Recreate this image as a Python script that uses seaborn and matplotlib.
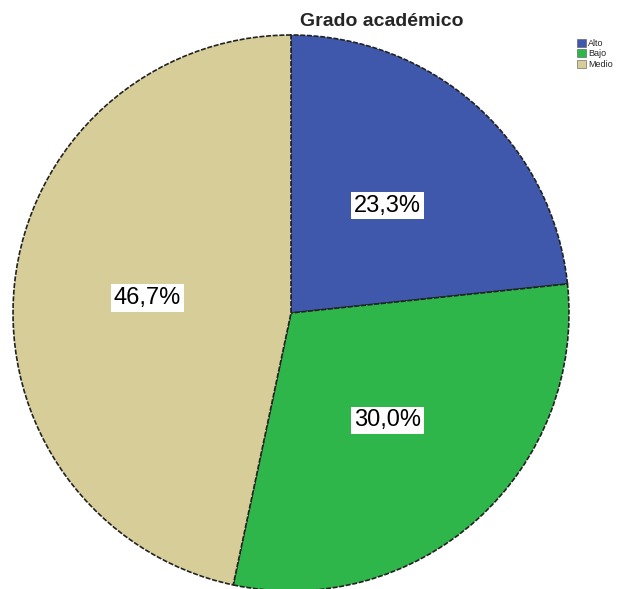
import matplotlib
matplotlib.use("Agg")
import matplotlib.pyplot as plt
from matplotlib.patches import Patch
import seaborn as sns

# Grado académico (n = 30)
categories = ["Alto", "Bajo", "Medio"]
counts = [7, 9, 14]
colors = ["#3F58AC", "#2FB64A", "#D6CD98"]

sns.set_theme(style="white")
plt.rcParams["font.family"] = ["Liberation Sans", "DejaVu Sans"]

fig = plt.figure(figsize=(6.21, 5.89), dpi=100)
ax = fig.add_axes([13 / 621, -2 / 589, 556 / 621, 556 / 589])

wedges, texts, autotexts = ax.pie(
    counts,
    colors=colors,
    startangle=90,
    counterclock=False,
    autopct=lambda p: f"{p:.1f}%".replace(".", ","),
    pctdistance=0.52,
    wedgeprops={"edgecolor": "#222222", "linewidth": 1.2, "linestyle": (0, (3, 1))},
    textprops={"fontsize": 17, "color": "black"},
)
for t in autotexts:
    t.set_bbox({"facecolor": "white", "edgecolor": "none", "pad": 2})

ax.set_xlim(-1, 1)
ax.set_ylim(-1, 1)
ax.set_aspect("equal")
ax.axis("off")

fig.text(382 / 621, 1 - 22 / 589, "Grado académico", ha="center", va="center",
         fontsize=14, fontweight="bold")

# legend with plain square swatches
handles = [Patch(facecolor=c, edgecolor="#555555", linewidth=0.4) for c in colors]
fig.legend(handles, categories, loc="upper left", bbox_to_anchor=(573 / 621, 1 - 35 / 589),
           fontsize=6.5, frameon=False, handlelength=1.0, handleheight=1.0,
           handletextpad=0.3, labelspacing=0.15, borderaxespad=0)

fig.savefig("out.png", dpi=100)
